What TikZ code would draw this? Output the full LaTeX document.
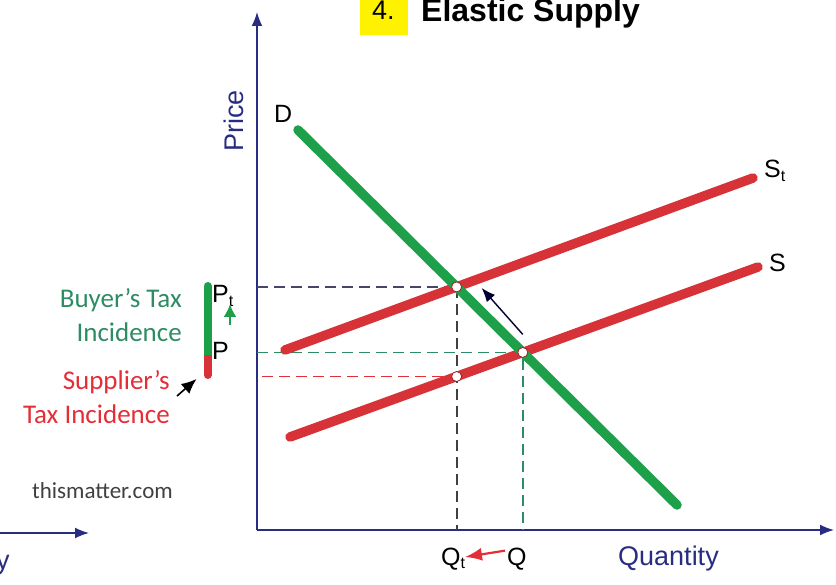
\documentclass[tikz,border=0pt]{standalone}
\usepackage{fontspec}
\setmainfont{Liberation Sans}
\newfontfamily\calfont{Carlito}
\usetikzlibrary{arrows.meta,calc}
\definecolor{axisblue}{RGB}{40,45,130}
\definecolor{demgreen}{RGB}{30,160,75}
\definecolor{supred}{RGB}{215,50,55}
\definecolor{buyteal}{RGB}{45,140,100}
\definecolor{sellred}{RGB}{228,45,55}
\definecolor{guidegray}{RGB}{70,70,105}
\newcommand\fsz[1]{\fontsize{#1}{#1}\selectfont}
\tikzset{
  axis/.style={draw=axisblue,line width=1.6pt,-{Latex[length=14pt,width=11pt]}},
  curve/.style={line width=9.5pt,line cap=round},
  guide/.style={line width=1.8pt,dash pattern=on 11pt off 6pt},
  eqdot/.style={circle,fill=white,draw=supred!70!black,line width=0.8pt,inner sep=0pt,minimum size=10pt},
  lbl/.style={inner sep=0pt,anchor=base west,font=\fsz{25}},
  cal/.style={inner sep=0pt,anchor=base east,font=\calfont\fsz{27}}
}
\begin{document}
\begin{tikzpicture}[x=1pt,y=-1pt,>=Latex]
  \useasboundingbox (0,0) rectangle (836,585);
  % title
  \fill[yellow] (360,-5) rectangle (408,35);
  \node[inner sep=0pt,anchor=base west,font=\fsz{27}] (num) at (372,20) {4.};
  \node[inner sep=0pt,anchor=base west,font=\bfseries\fsz{32}] (title) at (421,22) {Elastic Supply};
  % axes
  \coordinate (O) at (257,530);
  \coordinate (Ytop) at (257,12);
  \coordinate (Xend) at (834,530);
  \draw[axis] (O) -- (Ytop);
  \draw[axis] (O) -- (Xend);
  \coordinate (L0) at (-2,533);
  \coordinate (L1) at (89,533);
  \draw[axis] (L0) -- (L1);
  \node[lbl,font=\fsz{27},text=axisblue] (ycut) at (-4,569) {y};
  \node[inner sep=0pt,anchor=base,rotate=90,font=\fsz{27},text=axisblue] (price) at (243,121) {Price};
  \node[lbl,font=\fsz{27},text=axisblue] (qty) at (618,565) {Quantity};
  % curves
  \coordinate (D1) at (298,130);
  \coordinate (D2) at (677,505);
  \coordinate (St1) at (285,350);
  \coordinate (St2) at (753,178);
  \coordinate (S1) at (290,437);
  \coordinate (S2) at (758,267);
  \coordinate (E1) at (intersection of D1--D2 and St1--St2);
  \coordinate (E0) at (intersection of D1--D2 and S1--S2);
  \coordinate (Q1) at (E1 |- O);
  \coordinate (Q0) at (E0 |- O);
  \coordinate (Et) at (intersection of S1--S2 and E1--Q1);
  % guides
  \draw[guide,guidegray] (O |- E1) -- (E1);
  \draw[guide,black!75] (E1) -- (Q1);
  \draw[guide,buyteal] (O |- E0) -- (E0) -- (Q0);
  \draw[guide,sellred] ($(O |- Et)+(5,0)$) -- (Et);
  \draw[curve,supred] (St1) -- (St2);
  \draw[curve,supred] (S1) -- (S2);
  \draw[curve,demgreen] (D1) -- (D2);
  \node[eqdot] (e1) at (E1) {};
  \node[eqdot] (e0) at (E0) {};
  \node[eqdot] (et) at (Et) {};
  \draw[line width=1.4pt,black!80!blue,-{Latex[length=14pt,width=11pt]}] ($(E0)+(0,-18)$) -- ($(E1)+(25,1)$);
  % labels
  \node[lbl] (dl) at (274,123) {D};
  \node[lbl] (stl) at (764,178) {S\textsubscript{\fsz{16}t}};
  \node[lbl] (sl) at (769,272) {S};
  \node[lbl] (pt) at (212,303) {P\textsubscript{\fsz{16}t}};
  \node[lbl] (p) at (212,360) {P};
  \draw[demgreen,line width=2pt,-{Latex[length=13pt,width=13pt]}] (230,325) -- (230,304);
  \node[lbl] (qt) at (441,565) {Q\textsubscript{\fsz{16}t}};
  \node[lbl] (q) at (507,565) {Q};
  \draw[sellred,line width=2.2pt,-{Latex[length=17pt,width=13pt]}] (q.west) ++(-2,-8) -- (465,557);
  % incidence bar
  \coordinate (B1) at (207.5,286);
  \coordinate (B2) at (207.5,355);
  \coordinate (B3) at (207.5,375);
  \draw[line width=8pt,line cap=round,demgreen] (B1) -- (B2);
  \draw[line width=8pt,line cap=round,supred] (B3) -- (B2);
  \draw[line width=8pt,demgreen] (B1) -- (B2);
  \node[cal,text=buyteal] (buy1) at (182,308) {Buyer’s Tax};
  \node[cal,text=buyteal] (buy2) at (182,342) {Incidence};
  \node[cal,text=sellred] (sup1) at (170,390) {Supplier’s};
  \node[cal,text=sellred] (sup2) at (170,424) {Tax Incidence};
  \coordinate (Ar) at (177,396);
  \draw[black,line width=1.6pt,-{Latex[length=15pt,width=13pt]}] (Ar) -- ($(B3)+(-11,4)$);
  \node[inner sep=0pt,anchor=base west,font=\calfont\fsz{23},text=black!75] (web) at (32,498) {thismatter.com};
\end{tikzpicture}
\end{document}
